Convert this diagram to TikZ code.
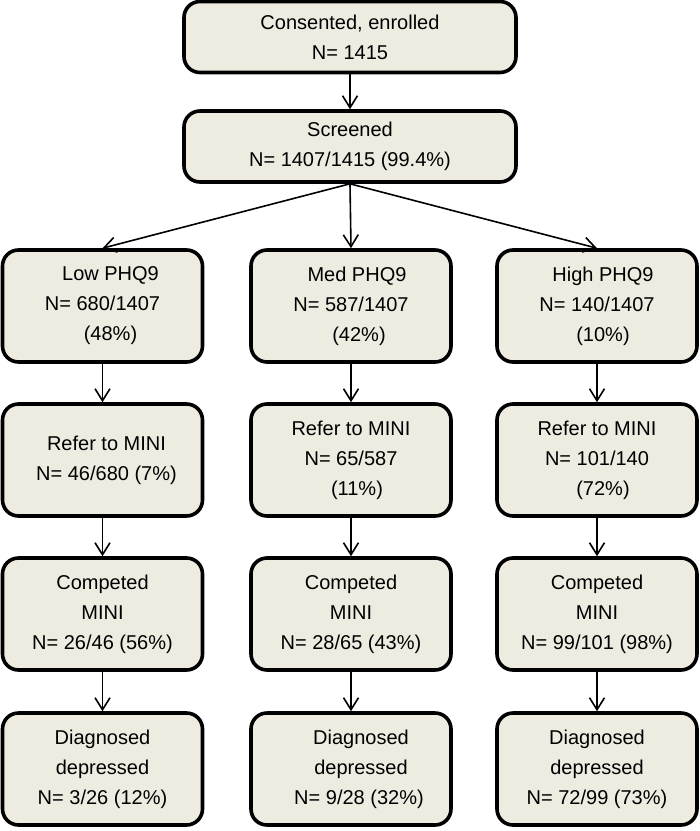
\documentclass[tikz,border=0pt]{standalone}
\usepackage{fontspec}
\setmainfont{Liberation Sans}
\usetikzlibrary{arrows.meta}
\definecolor{boxfill}{HTML}{EEECE1}

\begin{document}
\begin{tikzpicture}[x=0.5pt, y=-0.5pt,
            stage/.style={draw, line width=1.8pt, rounded corners=8pt, fill=boxfill, align=center,
                font=\fontsize{10}{15}\selectfont, minimum width=100pt, minimum height=56pt, inner sep=1pt},
            wide/.style={stage, minimum width=166pt, minimum height=35.5pt},
            flow/.style={line width=0.8pt, -{Straight Barb[length=6pt, width=7.5pt]}}]
            \useasboundingbox (0, 0) rectangle (700, 831);
            \node[wide] (enrol) at (350, 37) {Consented, enrolled\\N= 1415};
            \node[wide] (screen) at (350, 146.5) {Screened\\N= 1407/1415 (99.4\%)};
            \node[stage] (low) at (102.5, 306) {\hspace*{8pt}Low PHQ9\\N= 680/1407\\\hspace*{8pt}(48\%)};
            \node[stage] (med) at (351, 306) {\hspace*{6pt}Med PHQ9\\N= 587/1407\\\hspace*{8pt}(42\%)};
            \node[stage] (high) at (597, 306) {\hspace*{6pt}High PHQ9\\N= 140/1407\\\hspace*{6pt}(10\%)};
            \node[stage] (lowref) at (102.5, 460) {\hspace*{4pt}Refer to MINI\\\hspace*{4pt}N= 46/680 (7\%)};
            \node[stage] (medref) at (351, 460) {Refer to MINI\\N= 65/587\\\hspace*{6pt}(11\%)};
            \node[stage] (highref) at (597, 460) {Refer to MINI\\N= 101/140\\\hspace*{6pt}(72\%)};
            \node[stage] (lowmini) at (102.5, 614) {Competed\\MINI\\N= 26/46 (56\%)};
            \node[stage] (medmini) at (351, 614) {Competed\\MINI\\N= 28/65 (43\%)};
            \node[stage] (highmini) at (597, 614) {Competed\\MINI\\N= 99/101 (98\%)};
            \node[stage] (lowdep) at (102.5, 769) {Diagnosed\\depressed\\N= 3/26 (12\%)};
            \node[stage] (meddep) at (351, 769) {\hspace*{10pt}Diagnosed\\\hspace*{10pt}depressed\\\hspace*{8pt}N= 9/28 (32\%)};
            \node[stage] (highdep) at (597, 769) {Diagnosed\\depressed\\N= 72/99 (73\%)};
            \draw[flow] (enrol) -- (screen);
            \draw[flow] (screen.south) -- (low.north);
            \draw[flow] (screen.south) -- (med.north);
            \draw[flow] (screen.south) -- (high.north);
            \draw[flow] (low) -- (lowref);
            \draw[flow] (med) -- (medref);
            \draw[flow] (high) -- (highref);
            \draw[flow] (lowref) -- (lowmini);
            \draw[flow] (medref) -- (medmini);
            \draw[flow] (highref) -- (highmini);
            \draw[flow] (lowmini) -- (lowdep);
            \draw[flow] (medmini) -- (meddep);
            \draw[flow] (highmini) -- (highdep);
\end{tikzpicture}
\end{document}
